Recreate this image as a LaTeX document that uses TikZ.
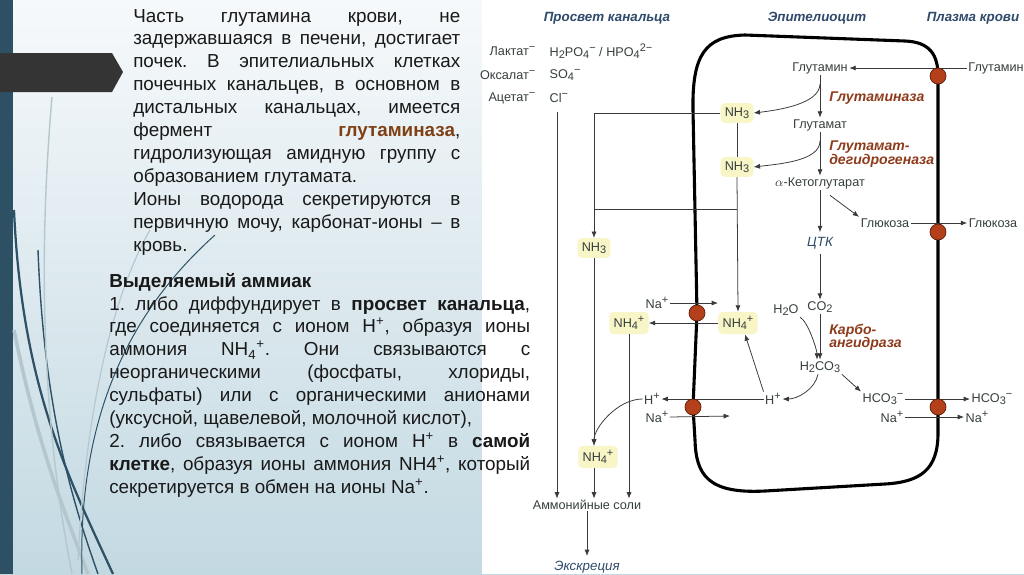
\documentclass[tikz,border=0pt]{standalone}
\usepackage{fontspec}
\setmainfont{Liberation Sans}
\usetikzlibrary{arrows.meta,calc}
\definecolor{slidetop}{HTML}{F6F9FB}
\definecolor{slidebot}{HTML}{C3D9E2}
\definecolor{slidebar}{HTML}{2E5064}
\definecolor{slidearrow}{HTML}{343434}
\definecolor{decodark}{HTML}{2D5166}
\definecolor{decolight}{HTML}{B4C6CE}
\definecolor{txtenz}{HTML}{7F4015}
\definecolor{enzc}{HTML}{8E3B1C}
\definecolor{hdrc}{HTML}{2F4A6A}
\definecolor{labelc}{HTML}{363F3F}
\definecolor{hlc}{HTML}{F8F5C6}
\definecolor{arrc}{HTML}{3A3A3A}
\definecolor{pumpc}{HTML}{B3401A}
\definecolor{pumpd}{HTML}{5A1C08}
% sub/superscripts of the slide text
\newcommand\ssb[1]{\textsubscript{#1}}
\newcommand\ssp[1]{\textsuperscript{#1}}
% sub/superscripts of the diagram formulas
\newcommand\csb[1]{\raisebox{-0.35ex}{\fontsize{7.8}{8}\selectfont #1}}
\newcommand\csp[1]{\raisebox{0.75ex}{\fontsize{7.8}{8}\selectfont #1}}
% justified and plain lines of the slide text
\newlength\jlw
\newcommand\jl[1]{\hbox to \jlw{\frenchspacing\spaceskip=.28em plus 1fil\relax #1}}
\newcommand\pl[1]{\hbox to \jlw{\frenchspacing #1\hfil}}
\tikzset{
  lbl/.style={
    font=\fontsize{9}{10}\selectfont,
    text=labelc,
    inner sep=1pt
  },
  hl/.style={
    lbl,
    fill=hlc,
    rounded corners=3pt,
    inner sep=3pt
  },
  hdr/.style={
    font=\fontsize{9.5}{11}\selectfont\bfseries\itshape,
    text=hdrc
  },
  hdrlight/.style={
    font=\fontsize{9.5}{11}\selectfont\itshape,
    text=hdrc
  },
  enz/.style={
    font=\fontsize{10}{9.5}\selectfont\bfseries\itshape,
    text=enzc,
    align=left,
    anchor=west,
    inner sep=0pt
  },
  pump/.style={
    circle,
    fill=pumpc,
    draw=pumpd,
    line width=0.5pt,
    minimum size=0.4cm,
    inner sep=0pt
  },
  arr/.style={draw=arrc, line width=0.55pt, -{Latex[length=4.5pt,width=3.6pt]}},
  ln/.style={draw=arrc, line width=0.55pt},
  membrane/.style={line width=2.2pt, black, line join=round},
  slidetxt/.style={
    font=\fontsize{13.4}{16.35}\selectfont,
    text=black!90,
    inner sep=0pt,
    anchor=base west
  }
}
\begin{document}
\begin{tikzpicture}[x=0.025cm,y=-0.025cm]
\useasboundingbox (0,0) rectangle (1024,574);
% slide background
\shade[top color=slidetop,bottom color=slidebot] (0,0) rectangle (1024,574);
\fill[white] (482,0) rectangle (1024,574);
\fill[slidebar] (0,0) rectangle (13,574);
\draw[decodark, line width=1.6pt] (14,210) .. controls (22,390) and (70,480) .. (113,574);
\draw[decodark, line width=1pt] (38,250) .. controls (44,410) and (72,500) .. (98,574);
\draw[decolight, line width=2.5pt] (14,330) .. controls (38,450) and (68,520) .. (88,574);
\draw[decolight, line width=1pt] (52,97) .. controls (38,260) and (42,420) .. (72,574);
\draw[decodark, line width=0.7pt] (82,574) .. controls (78,430) and (120,320) .. (215,235);
\draw[decolight, line width=0.8pt] (78,560) .. controls (85,420) and (110,300) .. (150,230);
\fill[slidearrow] (0,53) -- (112,53) -- (123,72) -- (112,92) -- (0,92) -- cycle;

% slide text
\node[slidetxt] (intro) at (133,22) {\setlength\jlw{8.175cm}\vtop{%
\jl{Часть глутамина крови, не}
\jl{задержавшаяся в печени, достигает}
\jl{почек. В эпителиальных клетках}
\jl{почечных канальцев, в основном в}
\jl{дистальных канальцах, имеется}
\jl{фермент \textcolor{txtenz}{\textbf{глутаминаза}},}
\jl{гидролизующая амидную группу с}
\pl{образованием глутамата.}
\jl{Ионы водорода секретируются в}
\jl{первичную мочу, карбонат-ионы – в}
\pl{кровь.}}};
\node[slidetxt] (ammtxt) at (109,287) {\setlength\jlw{10.52cm}\vtop{%
\pl{\textbf{Выделяемый аммиак}}
\jl{1. либо диффундирует в \textbf{просвет канальца},}
\jl{где соединяется с ионом H\ssp{+}, образуя ионы}
\jl{аммония NH\ssb{4}\ssp{+}. Они связываются с}
\jl{неорганическими (фосфаты, хлориды,}
\jl{сульфаты) или с органическими анионами}
\pl{(уксусной, щавелевой, молочной кислот),}
\jl{2. либо связывается с ионом H\ssp{+} в \textbf{самой}}
\jl{\textbf{клетке}, образуя ионы аммония NH4\ssp{+}, который}
\pl{секретируется в обмен на ионы Na\ssp{+}.}}};

% cell membrane
\draw[membrane] (938,76) -- (938,433) .. controls (938,470) and (920,482) .. (885,484)
  -- (765,491) .. controls (708,494) and (696,475) .. (695,440) -- (693,407) -- (697,313)
  -- (693,110) .. controls (692,55) and (705,36) .. (745,35) -- (905,41)
  .. controls (930,42) and (938,55) .. cycle;

% headers
\node[hdr] (hlum) at (607,18) {Просвет канальца};
\node[hdr] (hepi) at (817,18) {Эпителиоцит};
\node[hdr] (hpla) at (973,18) {Плазма крови};

% lumen
\node[lbl, anchor=east] (lac) at (537,51) {Лактат\csp{−}};
\node[lbl, anchor=east] (oxa) at (537,75) {Оксалат\csp{−}};
\node[lbl, anchor=east] (ace) at (537,98) {Ацетат\csp{−}};
\node[lbl, anchor=west] (phos) at (548,51) {H\csb{2}PO\csb{4}\csp{−} / HPO\csb{4}\csp{2−}};
\node[lbl, anchor=west] (sulf) at (548,75) {SO\csb{4}\csp{−}};
\node[lbl, anchor=west] (chl) at (548,98) {Cl\csp{−}};
\node[hl] (nh3l) at (594,248) {NH\csb{3}};
\node[lbl] (nal) at (657,303) {Na\csp{+}};
\node[hl] (nh4l) at (629,323) {NH\csb{4}\csp{+}};
\node[lbl] (hlu) at (652,399) {H\csp{+}};
\node[lbl] (nal2) at (657,417) {Na\csp{+}};
\node[hl] (nh4l2) at (598,457) {NH\csb{4}\csp{+}};
\node[lbl] (salts) at (587,505) {Аммонийные соли};
\node[hdrlight] (exc) at (587,567) {Экскреция};

% epithelial cell
\node[hl] (nh3a) at (737,113) {NH\csb{3}};
\node[hl] (nh3b) at (737,167) {NH\csb{3}};
\node[hl] (nh4c) at (738,323) {NH\csb{4}\csp{+}};
\node[lbl] (glnc) at (820,68) {Глутамин};
\node[lbl] (glu) at (820,125) {Глутамат};
\node[lbl] (akg) at (820,183) {$\alpha$-Кетоглутарат};
\node[lbl] (glcc) at (885,223) {Глюкоза};
\node[hdrlight] (tca) at (820,243) {ЦТК};
\node[lbl] (co2) at (820,307) {CO\csb{2}};
\node[lbl] (h2o) at (786,310) {H\csb{2}O};
\node[lbl] (h2co3) at (820,367) {H\csb{2}CO\csb{3}};
\node[lbl] (hco3c) at (883,399) {HCO\csb{3}\csp{−}};
\node[lbl] (hc) at (773,399) {H\csp{+}};
\node[lbl] (nac) at (892,417) {Na\csp{+}};
\node[enz] (gls) at (829,98) {Глутаминаза};
\node[enz] (gdh) at (829,154) {Глутамат-\\дегидрогеназа};
\node[enz] (ca) at (829,337) {Карбо-\\ангидраза};

% blood plasma
\node[lbl] (glnb) at (996,68) {Глутамин};
\node[lbl] (glcb) at (993,223) {Глюкоза};
\node[lbl] (hco3b) at (992,399) {HCO\csb{3}\csp{−}};
\node[lbl] (nab) at (977,417) {Na\csp{+}};

% free ends
\coordinate (clx) at (557,112);
\coordinate (jn) at (737,209);
\coordinate (naend) at (718,303);
\coordinate (na2end) at (730,416);

% connectors
\draw[arr] (clx) -- (clx |- salts.north);
\draw[arr] (nh3a.west) -| (nh3l.north);
\draw[ln] (nh3a.south) -- (nh3b.north);
\draw[arr] (nh3b.south) -- (nh4c.north);
\draw[ln] (jn) -- (jn -| nh3l.north);
\draw[arr] (nh3l.south) -- (nh3l.south |- nh4l2.north);
\draw[arr] (hlu.west) .. controls +(-25,0) and +(0,-18) .. (nh4l2.north -| nh3l.south);
\draw[arr] (nh4l2.south -| nh3l.south) -- (nh3l.south |- salts.north);
\draw[arr] (nh4l.south) -- (nh4l.south |- salts.north);
\draw[arr] (salts.south) -- (exc.north);
\draw[arr] (nal.east) -- (naend);
\draw[arr] (nh4c.west) -- (nh4l.east);
\draw[arr] (hc.west) -- (hlu.east);
\draw[arr] (nal2.east) -- (na2end);
\draw[arr] (hc.north west) -- ($(nh4c.south)+(7,0)$);
\draw[arr] (glnb.west) -- (glnc.east);
\draw[arr] (glnc.south) -- (glu.north);
\draw[arr] ($(glnc.south)!0.2!(glu.north)$) .. controls +(0,20) and +(25,-3) .. (nh3a.east);
\draw[arr] (glu.south) -- (akg.north);
\draw[arr] ($(glu.south)!0.2!(akg.north)$) .. controls +(0,20) and +(25,-3) .. (nh3b.east);
\draw[arr] (akg.south) -- (tca.north);
\draw[arr] ($(akg.south)+(10,5)$) -- (glcc.north west);
\draw[arr] (glcc.east) -- (glcb.west);
\draw[arr] (tca.south) -- (co2.north);
\draw[arr] (co2.south) -- (h2co3.north);
\draw[arr] (h2o.south east) .. controls +(8,5) and +(0,-10) .. ($(h2co3.north)+(-3,0)$);
\draw[arr] ($(h2co3.south)+(-2,0)$) .. controls +(-3,15) and +(15,0) .. (hc.east);
\draw[arr] (h2co3.south east) -- (hco3c.north west);
\draw[arr] (hco3c.east) -- (hco3b.west);
\draw[arr] (nac.east) -- (nab.west);

% transporters
\node[pump] (p1) at (938,76) {};
\node[pump] (p2) at (938,232) {};
\node[pump] (p3) at (938,407) {};
\node[pump] (p4) at (693,407) {};
\node[pump] (p5) at (697,313) {};
\end{tikzpicture}
\end{document}
